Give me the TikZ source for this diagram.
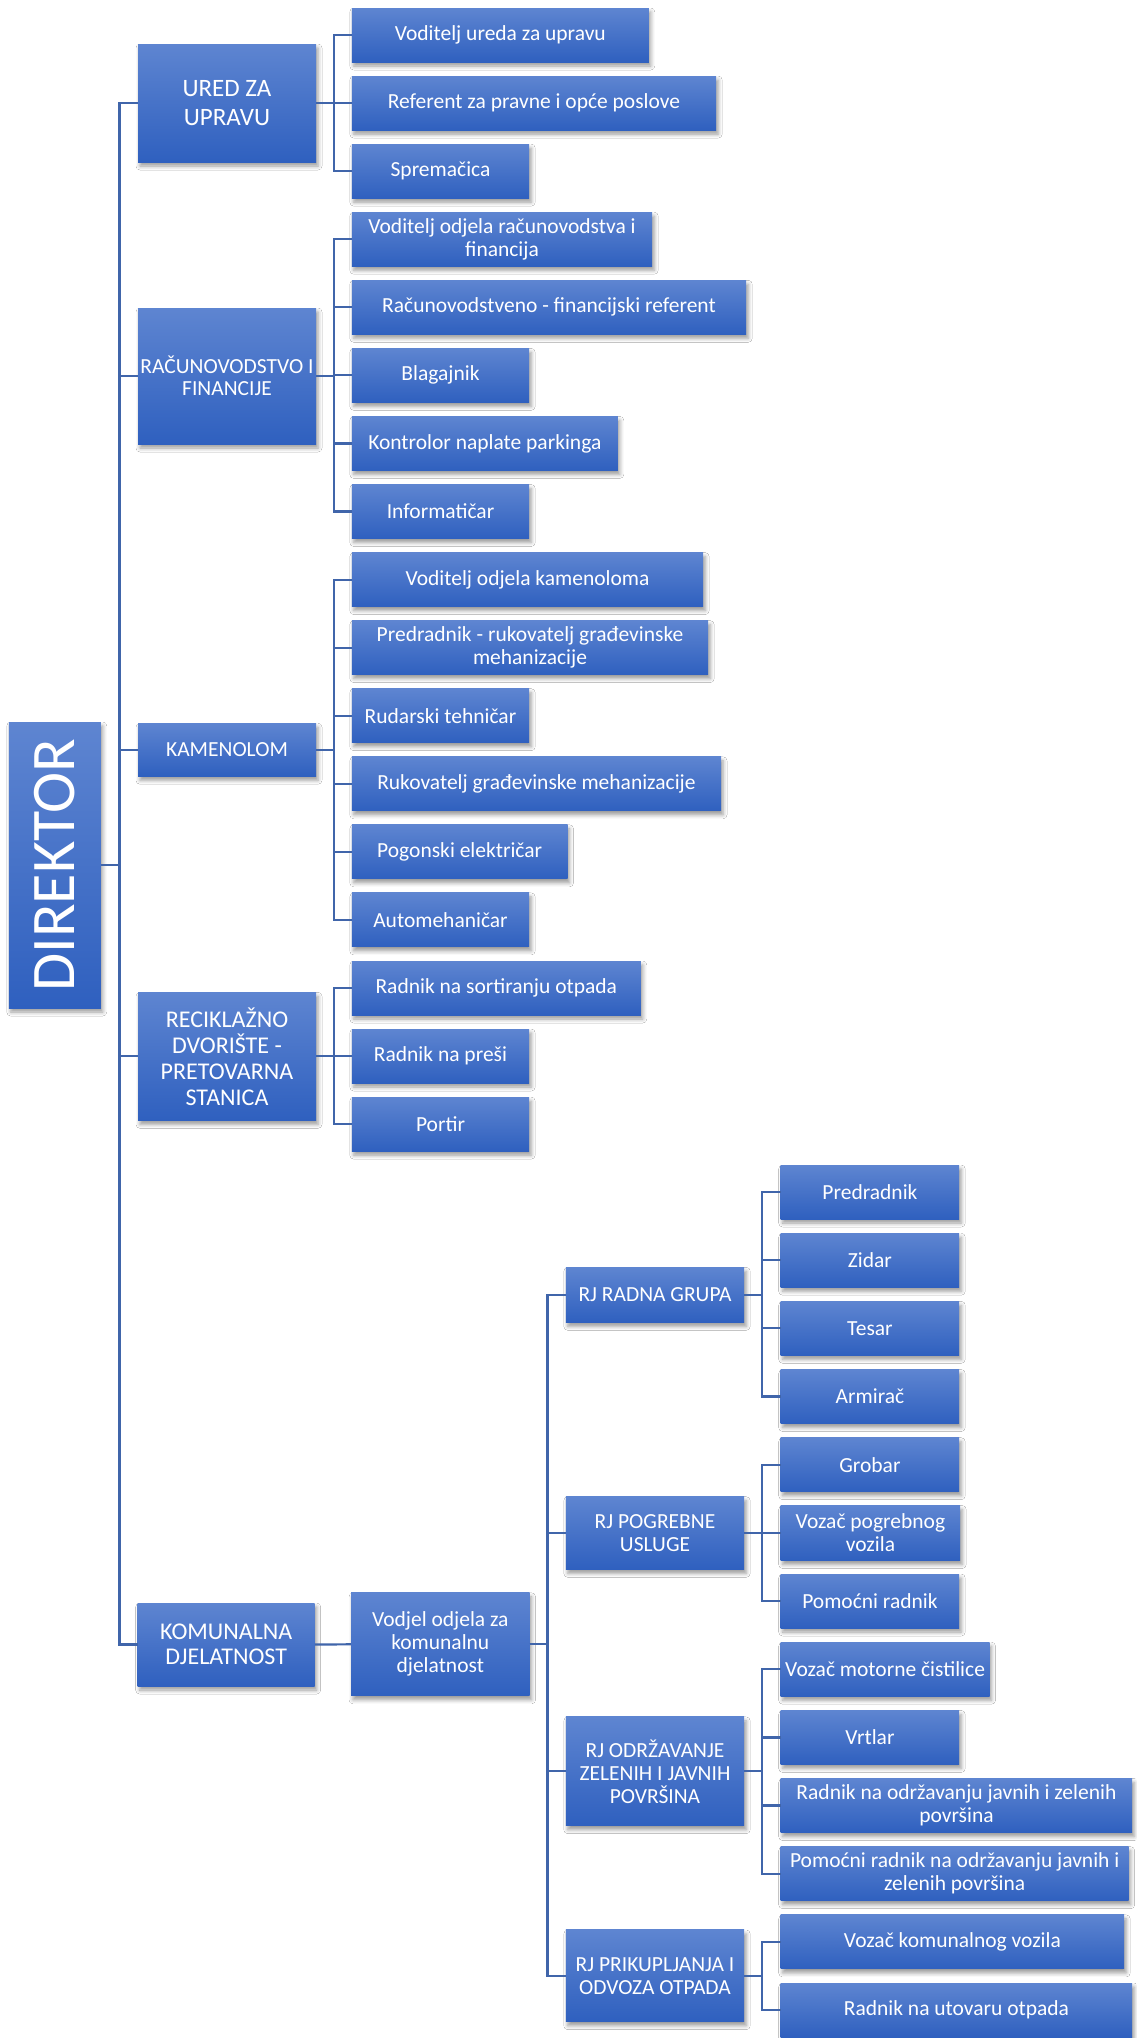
\documentclass[tikz,border=0pt]{standalone}
\usepackage{fontspec}
\setmainfont{Carlito}
\usetikzlibrary{shadows.blur}
\definecolor{boxtop}{RGB}{94,133,209}
\definecolor{boxbot}{RGB}{47,96,191}
\definecolor{linec}{RGB}{64,101,170}
\tikzset{
  box/.style={rectangle, inner sep=2pt, top color=boxtop, bottom color=boxbot,
    text=white, align=center, font=\fontsize{21.5}{23}\selectfont,
    blur shadow={shadow xshift=2pt, shadow yshift=-4pt, shadow blur radius=4pt, shadow opacity=40}},
  kid/.style={box, anchor=west, minimum height=54pt},
  lvl/.style={box, minimum width=178pt},
  conn/.style={draw=linec, line width=2.2pt},
}
\begin{document}
\begin{tikzpicture}[x=1pt,y=-1pt]
\useasboundingbox (0,0) rectangle (1136,2038);
\fill[white] (0,0) rectangle (1136,2038);

% DIREKTOR
\node[box, minimum width=92pt, minimum height=286pt, font=\fontsize{62}{62}\selectfont] (dir) at (54.8,865) {\rotatebox{90}{DIREKTOR}};

% level 1
\node[lvl, minimum height=118pt, font=\fontsize{25}{28.6}\selectfont] (ured) at (227,103) {URED ZA\\UPRAVU};
\node[lvl, minimum height=136pt, font=\fontsize{21.5}{22.5}\selectfont] (racun) at (227,376) {RAČUNOVODSTVO I\\FINANCIJE};
\node[lvl, minimum height=53pt] (kamen) at (227,749.7) {KAMENOLOM};
\node[lvl, minimum height=128pt, font=\fontsize{24}{26}\selectfont] (recik) at (227,1056.3) {RECIKLAŽNO\\DVORIŠTE -\\PRETOVARNA\\STANICA};
\node[lvl, minimum width=177pt, minimum height=83pt, font=\fontsize{24}{25.5}\selectfont] (komun) at (226.2,1644.5) {KOMUNALNA\\DJELATNOST};

% children of level 1
\node[kid, minimum width=297pt] (c1) at (351.6,35) {Voditelj ureda za upravu};
\node[kid, minimum width=364.4pt] (c2) at (351.6,103.07) {Referent za pravne i opće poslove};
\node[kid, minimum width=177.4pt] (c3) at (351.6,171.14) {Spremačica};
\node[kid, minimum width=300.4pt] (c4) at (351.6,239.2) {Voditelj odjela računovodstva i\\financija};
\node[kid, minimum width=394.4pt] (c5) at (351.6,307.3) {Računovodstveno - financijski referent};
\node[kid, minimum width=177.4pt] (c6) at (351.6,375.35) {Blagajnik};
\node[kid, minimum width=266pt] (c7) at (351.6,443.4) {Kontrolor naplate parkinga};
\node[kid, minimum width=177.4pt] (c8) at (351.6,511.5) {Informatičar};
\node[kid, minimum width=351.4pt] (c9) at (351.6,579.6) {Voditelj odjela kamenoloma};
\node[kid, minimum width=356.4pt] (c10) at (351.6,647.6) {Predradnik - rukovatelj građevinske\\mehanizacije};
\node[kid, minimum width=177.4pt] (c11) at (351.6,715.7) {Rudarski tehničar};
\node[kid, minimum width=369.2pt] (c12) at (351.6,783.8) {Rukovatelj građevinske mehanizacije};
\node[kid, minimum width=215.7pt] (c13) at (351.6,851.8) {Pogonski električar};
\node[kid, minimum width=177.4pt] (c14) at (351.6,919.9) {Automehaničar};
\node[kid, minimum width=289pt] (c15) at (351.6,988) {Radnik na sortiranju otpada};
\node[kid, minimum width=177.4pt] (c16) at (351.6,1056) {Radnik na preši};
\node[kid, minimum width=177.4pt] (c17) at (351.6,1124.1) {Portir};

% komunalna sub-tree
\node[box, minimum width=178.5pt, minimum height=103pt] (vod) at (440.3,1644.3) {Vodjel odjela za\\komunalnu\\djelatnost};
\node[lvl, minimum width=178.4pt, minimum height=55pt] (rj1) at (655,1294.8) {RJ RADNA GRUPA};
\node[lvl, minimum width=178.4pt, minimum height=72.6pt] (rj2) at (655,1533) {RJ POGREBNE\\USLUGE};
\node[lvl, minimum width=178.4pt, minimum height=108.7pt] (rj3) at (655,1771.3) {RJ ODRŽAVANJE\\ZELENIH I JAVNIH\\POVRŠINA};
\node[lvl, minimum width=178.4pt, minimum height=91.7pt] (rj4) at (655,1975.8) {RJ PRIKUPLJANJA I\\ODVOZA OTPADA};

\node[kid, minimum width=178.5pt] (r1) at (780.5,1192) {Predradnik};
\node[kid, minimum width=178.5pt] (r2) at (780.5,1260.2) {Zidar};
\node[kid, minimum width=178.5pt] (r3) at (780.5,1328.3) {Tesar};
\node[kid, minimum width=178.5pt] (r4) at (780.5,1396.5) {Armirač};
\node[kid, minimum width=178.5pt] (r5) at (780.5,1464.7) {Grobar};
\node[kid, minimum width=179.5pt, minimum height=55pt] (r6) at (780.5,1533) {Vozač pogrebnog\\vozila};
\node[kid, minimum width=178.5pt] (r7) at (780.5,1601) {Pomoćni radnik};
\node[kid, minimum width=208.8pt] (r8) at (780.5,1669.2) {Vozač motorne čistilice};
\node[kid, minimum width=178.5pt] (r9) at (780.5,1737.4) {Vrtlar};
\node[kid, minimum width=351.5pt] (r10) at (780.5,1805.5) {Radnik na održavanju javnih i zelenih\\površina};
\node[kid, minimum width=348pt] (r11) at (780.5,1873.7) {Pomoćni radnik na održavanju javnih i\\zelenih površina};
\node[kid, minimum width=343.5pt] (r12) at (780.5,1941.9) {Vozač komunalnog vozila};
\node[kid, minimum width=351.5pt] (r13) at (780.5,2010) {Radnik na utovaru otpada};

% connectors: director bus
\coordinate (mb) at (119.5,865);
\draw[conn] (dir.east) -- (mb);
\foreach \n in {ured,racun,kamen,recik,komun} \draw[conn] (mb) |- (\n.west);

% level1 -> children
\foreach \c in {c1,c2,c3} \draw[conn] (ured.east) -- ++(17.4,0) |- (\c.west);
\foreach \c in {c4,c5,c6,c7,c8} \draw[conn] (racun.east) -- ++(17.4,0) |- (\c.west);
\foreach \c in {c9,c10,c11,c12,c13,c14} \draw[conn] (kamen.east) -- ++(17.4,0) |- (\c.west);
\foreach \c in {c15,c16,c17} \draw[conn] (recik.east) -- ++(17.4,0) |- (\c.west);

% komunalna
\draw[conn] (komun.east) -- (vod.west);
\foreach \c in {rj1,rj2,rj3,rj4} \draw[conn] (vod.east) -- ++(17.8,0) |- (\c.west);
\foreach \c in {r1,r2,r3,r4} \draw[conn] (rj1.east) -- ++(17.8,0) |- (\c.west);
\foreach \c in {r5,r6,r7} \draw[conn] (rj2.east) -- ++(17.8,0) |- (\c.west);
\foreach \c in {r8,r9,r10,r11} \draw[conn] (rj3.east) -- ++(17.8,0) |- (\c.west);
\foreach \c in {r12,r13} \draw[conn] (rj4.east) -- ++(17.8,0) |- (\c.west);
\end{tikzpicture}
\end{document}
